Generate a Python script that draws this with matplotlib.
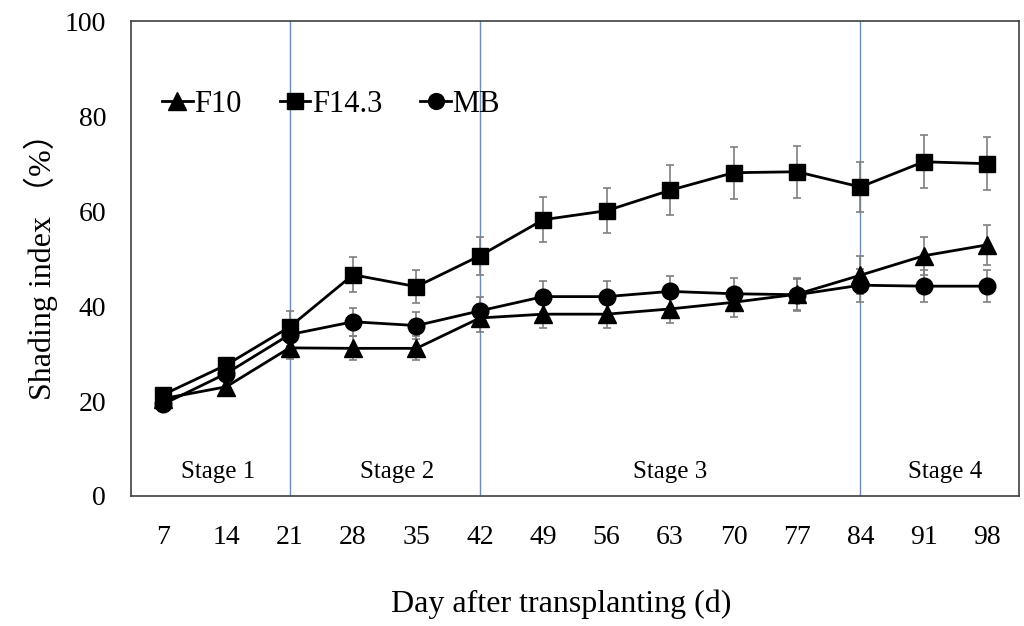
import matplotlib.pyplot as plt
import numpy as np

days = [7, 14, 21, 28, 35, 42, 49, 56, 63, 70, 77, 84, 91, 98]

f10 = [20.5, 23.0, 31.2, 31.1, 31.1, 37.5, 38.3, 38.3, 39.4, 40.8, 42.5, 46.5, 50.6, 52.9]
f10_err = [1.0, 1.2, 2.3, 2.5, 2.5, 3.0, 3.0, 3.0, 3.0, 3.0, 3.5, 4.0, 4.0, 4.2]

f143 = [21.3, 27.6, 35.6, 46.6, 44.1, 50.6, 58.2, 60.1, 64.4, 68.1, 68.3, 65.1, 70.4, 70.0]
f143_err = [1.0, 1.5, 3.3, 3.7, 3.4, 4.0, 4.7, 4.8, 5.3, 5.5, 5.5, 5.2, 5.6, 5.6]

mb = [19.3, 25.8, 34.0, 36.7, 35.9, 39.0, 42.0, 42.0, 43.1, 42.6, 42.4, 44.4, 44.2, 44.2]
mb_err = [1.0, 1.2, 2.5, 2.9, 2.8, 3.0, 3.3, 3.3, 3.3, 3.3, 3.3, 3.5, 3.4, 3.4]

stage_bounds = [21, 42, 84]
stage_names = ["Stage 1", "Stage 2", "Stage 3", "Stage 4"]
stage_pos = [0.87, 3.7, 8.0, 12.34]

plt.rcParams['font.family'] = ['Liberation Serif', 'Noto Sans CJK SC']

fig = plt.figure(figsize=(10.24, 6.26), dpi=100)
ax = fig.add_axes([0.128, 0.2077, 0.867, 0.7583])

x = np.arange(len(days))

for b in stage_bounds:
    ax.axvline(days.index(b), color='#5b8fd0', lw=1, zorder=1)

series = [(f10, f10_err, '^', 'F10', 13),
          (f143, f143_err, 's', 'F14.3', 12),
          (mb, mb_err, 'o', 'MB', 12)]
for vals, err, mk, lab, ms in series:
    ax.errorbar(x, vals, yerr=err, fmt='none', ecolor='#7f7f7f',
                elinewidth=1.2, capsize=3, capthick=1.2, zorder=2)
    ax.plot(x, vals, color='black', lw=2, marker=mk, markersize=ms,
            label=lab, zorder=3)

for name, p in zip(stage_names, stage_pos):
    ax.text(p, 5.0, name, ha='center', va='center', fontsize=18)

ax.set_xlim(-0.5, 13.5)
ax.set_ylim(0, 100)
ax.set_xticks(x)
ax.set_xticklabels([str(d) for d in days])
ax.set_yticks(range(0, 101, 20))
ax.tick_params(axis='both', length=0, labelsize=20)
ax.tick_params(axis='x', pad=21)
ax.tick_params(axis='y', pad=18)
for s in ax.spines.values():
    s.set_color('#404040')
    s.set_linewidth(1.2)

ax.set_xlabel("Day after transplanting (d)", fontsize=23)
ax.xaxis.set_label_coords(0.484, -0.197)
ax.set_ylabel("Shading index （%）", fontsize=23, labelpad=5)

ax.legend(loc='center left', bbox_to_anchor=(0.004, 0.825), ncol=3, frameon=False,
          fontsize=22, handlelength=1.0, handletextpad=0.05, columnspacing=1.25,
          markerscale=0.95)

fig.savefig("out.png", dpi=100)
